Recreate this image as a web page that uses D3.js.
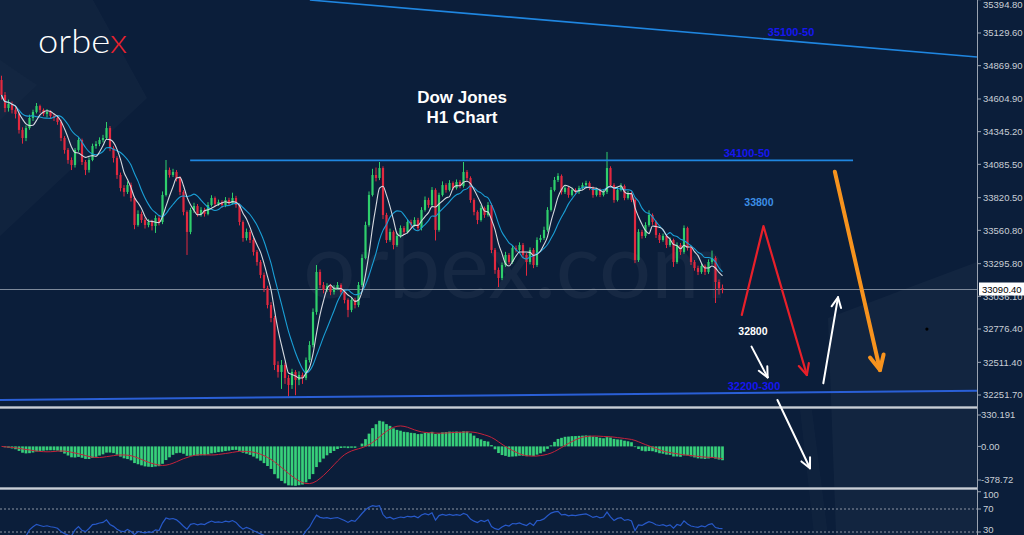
<!DOCTYPE html>
<html><head><meta charset="utf-8">
<script src="https://cdn.jsdelivr.net/npm/d3@7"></script>
<style>html,body{margin:0;padding:0;background:#0b1e3a;overflow:hidden}svg{display:block}</style>
</head><body>
<script>
// ---------- DATA ----------
const opens = [34756,34637,34533,34565,34518,34486,34359,34295,34374,34454,
34502,34549,34518,34486,34502,34470,34454,34422,34295,34200,
34120,34080,34200,34279,34104,34041,34120,34231,34247,34279,
34295,34374,34215,34136,34001,33897,33866,33921,33818,33603,
33691,33643,33603,33627,33595,33659,33627,33842,34041,34001,
34025,33977,33866,33707,33548,33723,33754,33691,33723,33691,
33762,33818,33770,33786,33762,33802,33778,33818,33762,33627,
33500,33548,33484,33389,33309,33206,33102,32967,32864,32490,
32435,32490,32387,32331,32435,32371,32411,32387,32530,32649,
32912,33230,33126,33087,33118,33071,33102,33126,33071,33007,
32928,33007,32967,33126,33341,33603,33842,34001,33977,34056,
33683,33484,33548,33444,33516,33579,33548,33627,33603,33643,
33579,33723,33802,33762,33882,33564,33842,33921,33882,33937,
33897,33945,33913,34025,33977,33802,33707,33643,33738,33683,
33762,33405,33246,33182,33285,33365,33309,33420,33405,33444,
33365,33309,33405,33285,33484,33500,33564,33723,33882,33961,
33993,33866,33897,33842,33882,33866,33897,33921,33937,33897,
33842,33882,33842,33866,34056,33921,33802,33882,33913,33818,
33850,33802,33325,33548,33516,33603,33683,33627,33524,33484,
33516,33444,33484,33309,33444,33389,33579,33420,33309,33261,
33230,33277,33230,33309,33341,33150,33102];
const closes = [34637,34533,34565,34518,34486,34359,34295,34374,34454,34502,
34549,34518,34486,34502,34470,34454,34422,34295,34200,34120,
34080,34200,34279,34104,34041,34120,34231,34247,34279,34295,
34374,34215,34136,34001,33897,33866,33921,33818,33603,33691,
33643,33603,33627,33595,33659,33627,33842,34041,34001,34025,
33977,33866,33707,33548,33723,33754,33691,33723,33691,33762,
33818,33770,33786,33762,33802,33778,33818,33762,33627,33500,
33548,33484,33389,33309,33206,33102,32967,32864,32490,32435,
32490,32387,32331,32435,32371,32411,32387,32530,32649,32912,
33230,33126,33087,33118,33071,33102,33126,33071,33007,32928,
33007,32967,33126,33341,33603,33842,34001,33977,34056,33683,
33484,33548,33444,33516,33579,33548,33627,33603,33643,33579,
33723,33802,33762,33882,33564,33842,33921,33882,33937,33897,
33945,33913,34025,33977,33802,33707,33643,33738,33683,33762,
33405,33246,33182,33285,33365,33309,33420,33405,33444,33365,
33309,33405,33285,33484,33500,33564,33723,33882,33961,33993,
33866,33897,33842,33882,33866,33897,33921,33937,33897,33842,
33882,33842,33866,34056,33921,33802,33882,33913,33818,33850,
33802,33325,33548,33516,33603,33683,33627,33524,33484,33516,
33444,33484,33309,33444,33389,33579,33420,33309,33261,33230,
33277,33230,33309,33341,33150,33102,33090.4];
const highs = [34790,34660,34600,34585,34540,34500,34380,34395,34480,34520,
34573,34560,34530,34525,34515,34490,34470,34440,34310,34215,
34140,34215,34300,34290,34120,34140,34250,34270,34300,34320,
34422,34390,34230,34150,34020,33920,33950,33940,33830,33720,
33710,33660,33650,33645,33680,33680,33870,34120,34060,34050,
34040,33990,33880,33720,33740,33780,33770,33745,33740,33785,
33840,33830,33805,33800,33825,33820,33860,33835,33775,33640,
33575,33565,33500,33405,33325,33225,33120,32990,32880,32520,
32530,32510,32410,32460,32450,32440,32430,32550,32680,32940,
33285,33250,33150,33140,33135,33125,33150,33140,33085,33020,
33030,33025,33150,33370,33630,33870,34050,34060,34104,34070,
33700,33575,33560,33540,33600,33595,33650,33645,33665,33660,
33745,33830,33820,33905,33895,33860,33950,33935,33960,33950,
33965,33960,34104,34040,33990,33815,33720,33760,33750,33785,
33775,33420,33265,33305,33390,33380,33440,33440,33465,33460,
33380,33425,33420,33505,33525,33590,33745,33905,33985,34015,
34005,33920,33910,33900,33895,33915,33940,33955,33950,33910,
33900,33895,33885,34184,34070,33935,33905,33935,33925,33875,
33870,33815,33570,33565,33625,33720,33695,33640,33540,33535,
33530,33505,33495,33465,33460,33600,33590,33435,33325,33280,
33300,33290,33330,33400,33355,33170,33130];
const lows = [34600,34500,34505,34490,34450,34330,34250,34270,34360,34430,
34490,34495,34470,34460,34450,34430,34400,34270,34170,34090,
34040,34060,34185,34080,34000,34020,34110,34210,34230,34260,
34280,34190,34100,33970,33870,33830,33850,33790,33570,33590,
33620,33575,33585,33560,33540,33600,33610,33830,33980,33985,
33950,33840,33680,33365,33530,33700,33670,33670,33670,33680,
33750,33750,33755,33740,33745,33760,33765,33740,33600,33470,
33480,33460,33360,33280,33180,33070,32940,32830,32450,32390,
32300,32340,32240,32300,32250,32330,32340,32370,32510,32630,
32890,33100,33060,33070,33045,33050,33085,33050,32980,32870,
32910,32940,32950,33110,33330,33590,33830,33950,33960,33650,
33460,33470,33410,33430,33500,33525,33535,33580,33590,33555,
33560,33710,33740,33750,33480,33550,33830,33860,33870,33880,
33885,33895,33900,33955,33780,33680,33610,33630,33660,33670,
33380,33215,33110,33165,33270,33290,33295,33385,33390,33340,
33200,33290,33260,33270,33465,33485,33550,33710,33870,33945,
33845,33850,33820,33830,33845,33850,33885,33905,33880,33820,
33830,33825,33830,33850,33900,33780,33790,33870,33800,33805,
33785,33300,33310,33495,33500,33590,33605,33500,33460,33470,
33420,33430,33270,33295,33365,33375,33400,33285,33240,33205,
33215,33205,33215,33290,32983,33050,33060];

const priceTicks = [35394.80,35129.60,34869.90,34604.90,34345.20,34085.50,33820.50,33560.80,33295.80,33036.10,32776.40,32511.40,32251.70];
const lastPrice = 33090.40;
const macdTicks = [330.191, 0.00, -378.72];
const macdTickLabels = ["330.191","0.00","-378.72"];
const rsiTicks = [100, 70, 30];

// drawn levels, in (bar index, price)
const levelLines = [
  {name:"trend", pts:[[88.1,35392],[278.7,34939]]},
  {name:"resist", pts:[[53.9,34117],[243.3,34117]]},
  {name:"support", pts:[[-0.5,32212],[278.7,32286]]}
];
const levelLabels = [
  {text:"35100-50", at:[225.6,35134]},
  {text:"34100-50", at:[213.0,34172]},
  {text:"32200-300", at:[215.0,32319]}
];
const arrows = [
  {kind:"red",    pts:[[211.5,32888],[217.7,33595],[230.1,32411]]},
  {kind:"white",  pts:[[214.3,32636],[218.9,32392]]},
  {kind:"white",  pts:[[234.8,32345],[239.0,33028]]},
  {kind:"white",  pts:[[221.7,32212],[231.0,31669]]},
  {kind:"orange", pts:[[238.1,34027],[251.0,32450]]}
];
const noteLabels = [
  {text:"33800", at:[216.4,33786], kind:"blue"},
  {text:"32800", at:[214.7,32760], kind:"white"}
];
const dotMark = [264.4, 32776];

// ---------- INDICATORS ----------
function sma(a,n){return a.map((v,i)=>{const s=a.slice(Math.max(0,i-n+1),i+1);return d3.mean(s);});}
function ema(a,n){const k=2/(n+1);const o=[];a.forEach((v,i)=>o.push(i===0?v:v*k+o[i-1]*(1-k)));return o;}
const maFast = sma(closes,5), maSlow = sma(closes,10);
const e12=ema(closes,12), e26=ema(closes,26);
const macd = e12.map((v,i)=>v-e26[i]);
const signal = sma(macd,9);
const rsi=[]; {let ag=0,al=0;
  for(let i=1;i<closes.length;i++){const d=closes[i]-closes[i-1];const g=Math.max(d,0),l=Math.max(-d,0);
    if(i<=14){ag=(ag*(i-1)+g)/i;al=(al*(i-1)+l)/i;}else{ag=(ag*13+g)/14;al=(al*13+l)/14;}
    rsi.push([i, al===0?100:100-100/(1+ag/al)]);}}

// ---------- DRAW ----------
const W=1024,H=535, AX=977;
const svg=d3.select("body").append("svg").attr("width",W).attr("height",H);
svg.append("rect").attr("width",W).attr("height",H).attr("fill","#0b1e3a");
// background brand shapes
svg.append("path").attr("d","M0,0 L93,0 L147,98 L0,236 Z").attr("fill","#ffffff").attr("opacity",0.025);
svg.append("path").attr("d","M0,60 L37,85 L0,120 Z").attr("fill","#ffffff").attr("opacity",0.015);
svg.append("path").attr("d","M836,535 L828,318 L977,262 L977,535 Z").attr("fill","#ffffff").attr("opacity",0.03);
svg.append("path").attr("d","M800,410 L812,410 L828,535 L814,535 Z").attr("fill","#ffffff").attr("opacity",0.02);
// watermark
svg.append("text").attr("x",515).attr("y",298).attr("text-anchor","middle")
  .attr("font-family","Lato, 'Open Sans', sans-serif").attr("font-size",92).attr("font-weight",400)
  .attr("fill","#ffffff").attr("opacity",0.045).text("orbex.com");
// logo
const logo=svg.append("text").attr("x",38).attr("y",53).attr("font-family","Lato, 'Open Sans', sans-serif")
  .attr("font-size",33).attr("font-weight",300).attr("fill","#ffffff").attr("textLength",89).attr("lengthAdjust","spacingAndGlyphs");
logo.append("tspan").text("orbe");
logo.append("tspan").attr("fill","#e8222f").text("x");

const x=d3.scaleLinear().domain([0,closes.length-1]).range([1.5,722.5]);
const y=d3.scaleLinear().domain([32251.7,35129.6]).range([395,33]);
const ym=d3.scaleLinear().domain([-378.72,330.191]).range([487,411]);
const yr=d3.scaleLinear().domain([30,70]).range([532,509]);

const defs=svg.append("defs");
defs.append("clipPath").attr("id","cMain").append("rect").attr("x",0).attr("y",0).attr("width",AX).attr("height",406);
defs.append("clipPath").attr("id","cMacd").append("rect").attr("x",0).attr("y",410).attr("width",AX).attr("height",78);
defs.append("clipPath").attr("id","cRsi").append("rect").attr("x",0).attr("y",491).attr("width",AX).attr("height",44);

const main=svg.append("g").attr("clip-path","url(#cMain)");
// current price line
main.append("line").attr("x1",0).attr("x2",AX).attr("y1",y(lastPrice)).attr("y2",y(lastPrice))
  .attr("stroke","#9aa4b2").attr("stroke-width",1).attr("opacity",0.8);
// candles
const idx=d3.range(closes.length);
const up="#2fcf6c", dn="#e2293f", bw=2.2;
const cg=main.append("g");
cg.selectAll("line").data(idx).join("line")
  .attr("x1",i=>x(i)).attr("x2",i=>x(i)).attr("y1",i=>y(highs[i])).attr("y2",i=>y(lows[i]))
  .attr("stroke",i=>closes[i]>=opens[i]?up:dn).attr("stroke-width",1);
cg.selectAll("rect").data(idx).join("rect")
  .attr("x",i=>x(i)-bw/2).attr("width",bw)
  .attr("y",i=>y(Math.max(opens[i],closes[i])))
  .attr("height",i=>Math.max(1,Math.abs(y(opens[i])-y(closes[i]))))
  .attr("fill",i=>closes[i]>=opens[i]?up:dn);
// MAs
const lineG=d3.line().x((d,i)=>x(i)).y(d=>y(d)).curve(d3.curveMonotoneX);
main.append("path").attr("d",lineG(maSlow)).attr("fill","none").attr("stroke","#1a9fd6").attr("stroke-width",1.1);
main.append("path").attr("d",lineG(maFast)).attr("fill","none").attr("stroke","#d5d9df").attr("stroke-width",1.1);
// level lines
const lvStyle={trend:["#1f86e0",1.6],resist:["#1f86e0",1.6],support:["#2a5fd6",2]};
levelLines.forEach(L=>{
  main.append("line").attr("x1",x(L.pts[0][0])).attr("y1",y(L.pts[0][1])).attr("x2",x(L.pts[1][0])).attr("y2",y(L.pts[1][1]))
    .attr("stroke",lvStyle[L.name][0]).attr("stroke-width",lvStyle[L.name][1]);
});
levelLabels.forEach(t=>{
  svg.append("text").attr("x",x(t.at[0])).attr("y",y(t.at[1])).attr("dy","0.35em").attr("text-anchor","middle")
    .attr("font-family","'Liberation Sans', Arial, sans-serif").attr("font-weight","bold").attr("font-size",11)
    .attr("fill","#1616f0").text(t.text);
});

// title
svg.append("text").attr("x",462).attr("y",103).attr("text-anchor","middle").attr("font-family","'Liberation Sans', Arial, sans-serif")
  .attr("font-weight","bold").attr("font-size",17).attr("fill","#ffffff").text("Dow Jones");
svg.append("text").attr("x",462).attr("y",123).attr("text-anchor","middle").attr("font-family","'Liberation Sans', Arial, sans-serif")
  .attr("font-weight","bold").attr("font-size",17).attr("fill","#ffffff").text("H1 Chart");

// MACD pane
const mg=svg.append("g").attr("clip-path","url(#cMacd)");
mg.selectAll("rect").data(idx).join("rect")
  .attr("x",i=>x(i)-1.35).attr("width",2.7)
  .attr("y",i=>Math.min(ym(0),ym(macd[i]))).attr("height",i=>Math.abs(ym(macd[i])-ym(0)))
  .attr("fill","#37d07a");
mg.append("path").attr("d",d3.line().x((d,i)=>x(i)).y(d=>ym(d))(signal)).attr("fill","none").attr("stroke","#c4223a").attr("stroke-width",1);

// RSI pane
const rg=svg.append("g").attr("clip-path","url(#cRsi)");
[70,30].forEach(v=>rg.append("line").attr("x1",0).attr("x2",AX).attr("y1",yr(v)).attr("y2",yr(v))
  .attr("stroke","#8c95a3").attr("stroke-width",1).attr("stroke-dasharray","2,2"));
rg.append("path").attr("d",d3.line().x(d=>x(d[0])).y(d=>yr(d[1]))(rsi)).attr("fill","none").attr("stroke","#2759c9").attr("stroke-width",1.2);

// separators
[407.5,488.5].forEach(sy=>{
  svg.append("rect").attr("x",0).attr("y",sy-1.5).attr("width",AX).attr("height",3).attr("fill","#8e98a6");
  svg.append("line").attr("x1",0).attr("x2",AX).attr("y1",sy).attr("y2",sy).attr("stroke","#c9ced6").attr("stroke-width",1);
});

// annotations
const arrowStyle={red:["#e8202a",2.2,12],white:["#ffffff",2,11],orange:["#f7931e",4,16]};
const ann=svg.append("g").attr("fill","none").attr("stroke-linecap","round").attr("stroke-linejoin","round");
arrows.forEach(a=>{
  const [col,w,hl]=arrowStyle[a.kind];
  const P=a.pts.map(p=>[x(p[0]),y(p[1])]);
  ann.append("path").attr("d",d3.line()(P)).attr("stroke",col).attr("stroke-width",w);
  const t=P[P.length-1], s=P[P.length-2];
  const ang=Math.atan2(t[1]-s[1],t[0]-s[0]);
  [0.45,-0.45].forEach(da=>{
    ann.append("line").attr("x1",t[0]).attr("y1",t[1])
      .attr("x2",t[0]-hl*Math.cos(ang+da)).attr("y2",t[1]-hl*Math.sin(ang+da))
      .attr("stroke",col).attr("stroke-width",w);
  });
});
noteLabels.forEach(n=>{
  svg.append("text").attr("x",x(n.at[0])).attr("y",y(n.at[1])).attr("dy","0.35em").attr("text-anchor","middle")
    .attr("font-family","'Liberation Sans', Arial, sans-serif").attr("font-weight","bold").attr("font-size",10.5)
    .attr("fill",n.kind==="blue"?"#3d8fe6":"#ffffff").text(n.text);
});
svg.append("circle").attr("cx",x(dotMark[0])).attr("cy",y(dotMark[1])).attr("r",1.6).attr("fill","#000000");

// right axis
svg.append("line").attr("x1",AX+0.5).attr("x2",AX+0.5).attr("y1",0).attr("y2",H).attr("stroke","#9aa3b0").attr("stroke-width",1);
const axF="'Liberation Sans', Arial, sans-serif", axC="#c9ced6";
const ax=svg.append("g").attr("font-family",axF).attr("font-size",9.5).attr("fill",axC);
priceTicks.forEach(v=>{
  const ty=Math.max(y(v),5);
  ax.append("line").attr("x1",AX).attr("x2",AX+4).attr("y1",y(v)).attr("y2",y(v)).attr("stroke","#9aa3b0");
  ax.append("text").attr("x",AX+6).attr("y",ty).attr("dy","0.35em").text(d3.format(".2f")(v));
});
const mOff=[4,0,-7];
macdTicks.forEach((v,i)=>{
  ax.append("line").attr("x1",AX).attr("x2",AX+4).attr("y1",ym(v)+mOff[i]).attr("y2",ym(v)+mOff[i]).attr("stroke","#9aa3b0");
  ax.append("text").attr("x",AX+4).attr("y",ym(v)+mOff[i]).attr("dy","0.35em").text(macdTickLabels[i]);
});
const rOff=[3,0,-2];
rsiTicks.forEach((v,i)=>{
  ax.append("line").attr("x1",AX).attr("x2",AX+4).attr("y1",yr(v)).attr("y2",yr(v)).attr("stroke","#9aa3b0");
  ax.append("text").attr("x",AX+6).attr("y",yr(v)+rOff[i]).attr("dy","0.35em").text(v);
});
// current price tag
const ly=y(lastPrice);
svg.append("rect").attr("x",AX+2).attr("y",ly-7).attr("width",45).attr("height",13).attr("fill","#ffffff");
svg.append("text").attr("x",AX+5).attr("y",ly).attr("dy","0.35em").attr("font-family",axF).attr("font-size",9.5).attr("fill","#000000").text(d3.format(".2f")(lastPrice));
</script>
</body></html>
